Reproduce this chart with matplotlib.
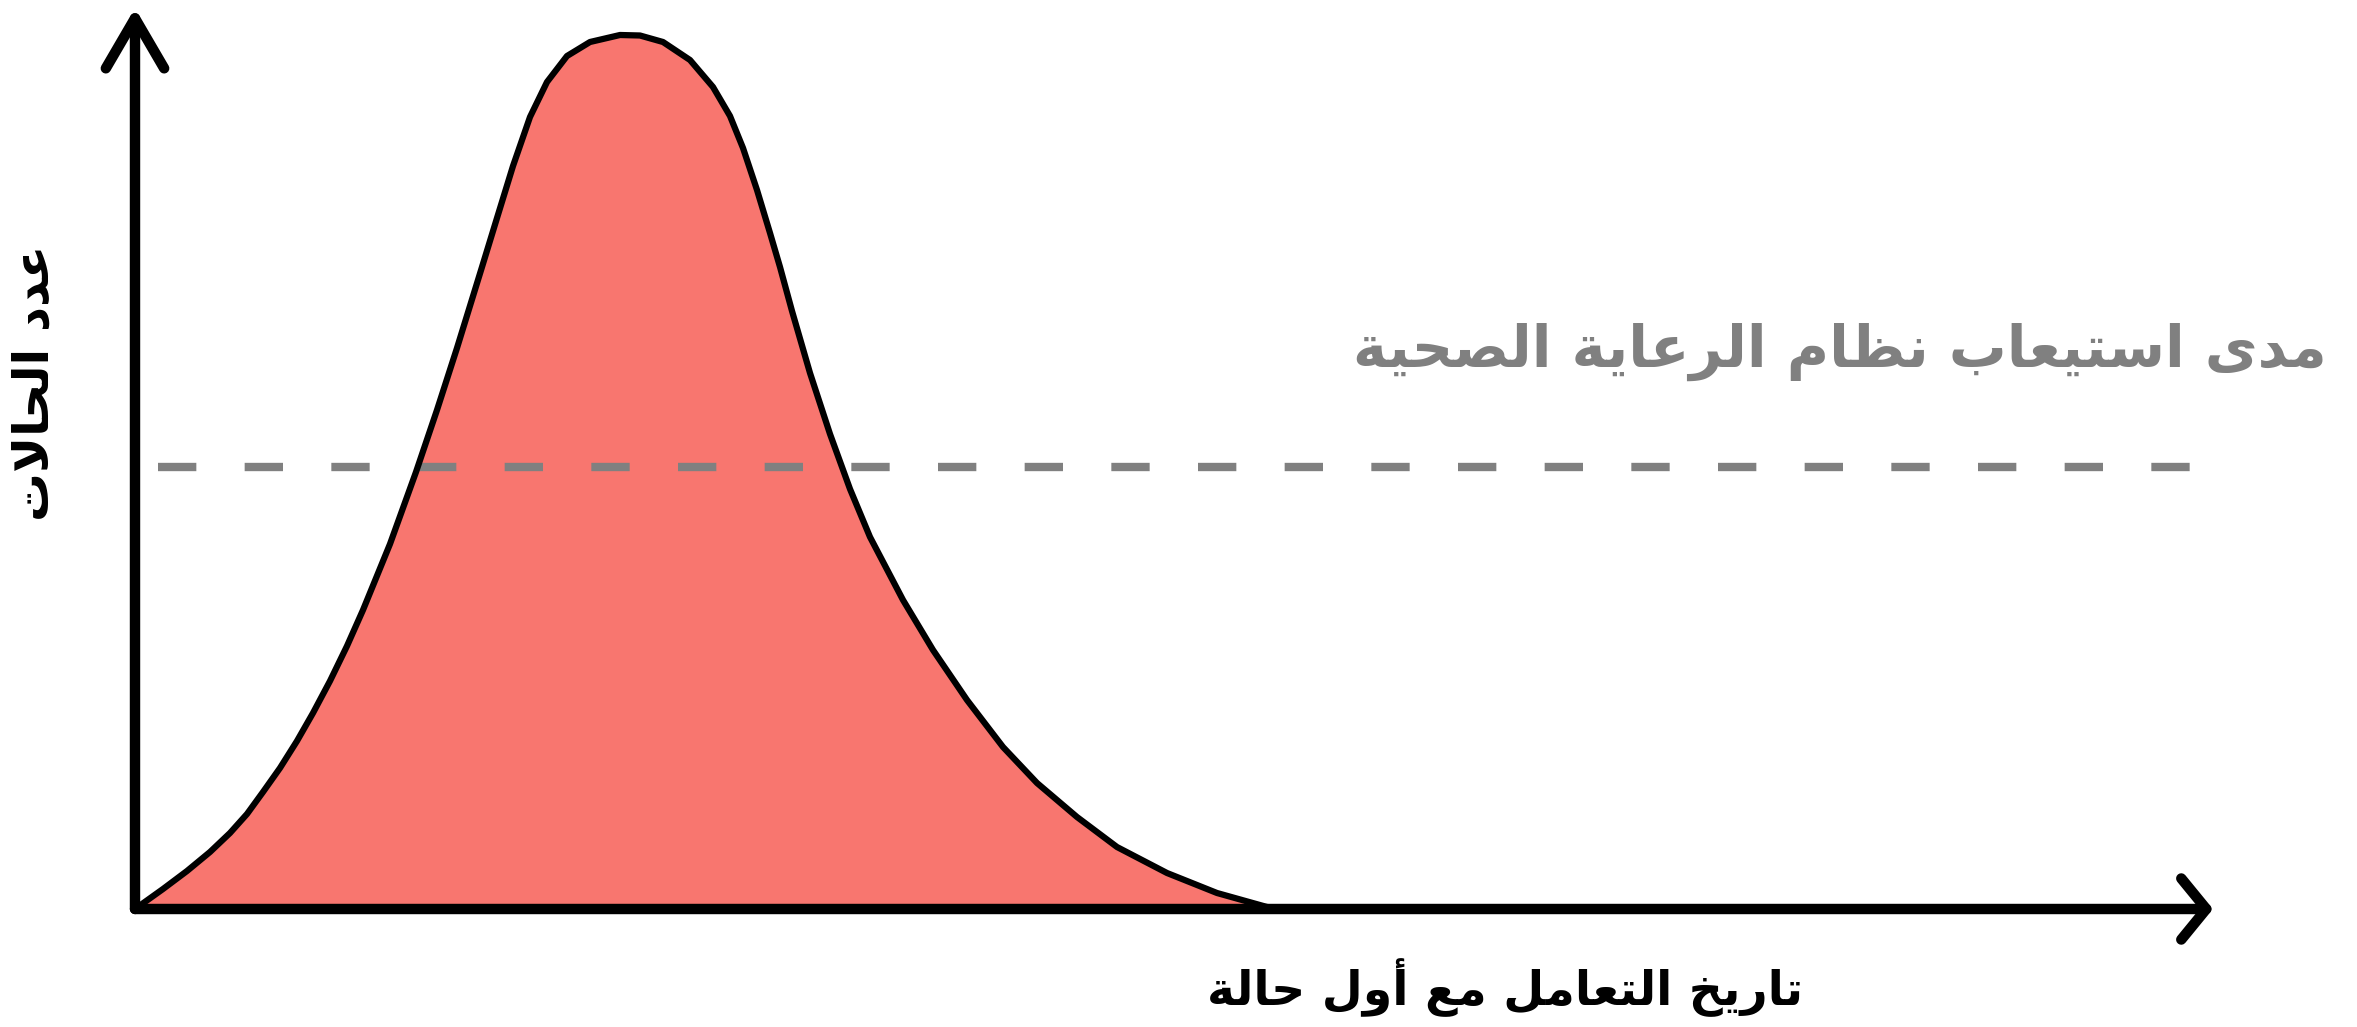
import matplotlib
matplotlib.use("Agg")
import matplotlib.pyplot as plt

# --- data (x: days, y: cases, arbitrary units) ---
days = [0.0, 2.8, 5.2, 7.5, 9.5, 11.2, 12.8, 14.5, 16.2, 17.8, 19.5, 21.2,
        22.8, 25.5, 28.1, 30.2, 32.2, 34.7, 36.2, 37.8, 39.5, 41.2, 43.2,
        45.5, 48.5, 50.5, 52.8, 55.5, 57.8, 59.5, 60.8, 62.2, 63.5, 64.5,
        65.7, 67.5, 69.5, 71.5, 73.5, 76.8, 79.8, 83.2, 86.8, 90.2, 94.2,
        98.2, 103.2, 108.2, 113.2, 115.5]
cases = [0.0, 2.0, 3.8, 5.7, 7.6, 9.5, 11.7, 14.1, 16.8, 19.6, 22.8, 26.3,
         29.9, 36.5, 43.7, 49.9, 56.1, 64.2, 69.1, 74.3, 79.2, 82.7, 85.3,
         86.7, 87.4, 87.35, 86.7, 84.9, 82.2, 79.3, 76.1, 71.9, 67.6, 64.2,
         59.8, 53.6, 47.5, 42.0, 37.2, 30.9, 25.9, 20.9, 16.2, 12.6, 9.2,
         6.2, 3.6, 1.6, 0.2, 0.0]
capacity = 44.2
capacity_span = [2.3, 206.3]

capacity_label = "مدى استيعاب نظام الرعاية الصحية"
x_label = "تاريخ التعامل مع أول حالة"
y_label = "عدد الحالات"

# --- tiny arabic shaper (matplotlib does not join arabic letters) ---
FORMS = {
    'ا': (0xFE8D, 0xFE8E, None, None),
    'أ': (0xFE83, 0xFE84, None, None),
    'ب': (0xFE8F, 0xFE90, 0xFE91, 0xFE92),
    'ة': (0xFE93, 0xFE94, None, None),
    'ت': (0xFE95, 0xFE96, 0xFE97, 0xFE98),
    'ح': (0xFEA1, 0xFEA2, 0xFEA3, 0xFEA4),
    'خ': (0xFEA5, 0xFEA6, 0xFEA7, 0xFEA8),
    'د': (0xFEA9, 0xFEAA, None, None),
    'ر': (0xFEAD, 0xFEAE, None, None),
    'س': (0xFEB1, 0xFEB2, 0xFEB3, 0xFEB4),
    'ص': (0xFEB9, 0xFEBA, 0xFEBB, 0xFEBC),
    'ظ': (0xFEC5, 0xFEC6, 0xFEC7, 0xFEC8),
    'ع': (0xFEC9, 0xFECA, 0xFECB, 0xFECC),
    'ل': (0xFEDD, 0xFEDE, 0xFEDF, 0xFEE0),
    'م': (0xFEE1, 0xFEE2, 0xFEE3, 0xFEE4),
    'ن': (0xFEE5, 0xFEE6, 0xFEE7, 0xFEE8),
    'و': (0xFEED, 0xFEEE, None, None),
    'ى': (0xFEEF, 0xFEF0, None, None),
    'ي': (0xFEF1, 0xFEF2, 0xFEF3, 0xFEF4),
    'لا': (0xFEFB, 0xFEFC, None, None),
    'لأ': (0xFEF7, 0xFEF8, None, None),
}


def shape(text):
    units = []
    i = 0
    while i < len(text):
        if text[i] == 'ل' and i + 1 < len(text) and text[i + 1] in 'اأ':
            units.append(text[i:i + 2])
            i += 2
        else:
            units.append(text[i])
            i += 1

    def joins_next(u):
        return u in FORMS and FORMS[u][2] is not None

    out = []
    for k, u in enumerate(units):
        if u not in FORMS:
            out.append(u)
            continue
        prev = k > 0 and joins_next(units[k - 1])
        nxt = joins_next(u) and k + 1 < len(units) and units[k + 1] in FORMS
        idx = {(False, False): 0, (True, False): 1,
               (False, True): 2, (True, True): 3}[(prev, nxt)]
        out.append(chr(FORMS[u][idx]))
    return ''.join(out)[::-1]


W, H = 2357, 1027
fig = plt.figure(figsize=(W / 100, H / 100), dpi=100)
fig.patch.set_facecolor('white')

# axes: origin at (135, 909) px, x arrow tip at 2213 px, y arrow tip at 8 px
ax = fig.add_axes([135 / W, (H - 909) / H, (2213 - 135) / W, (909 - 8) / H])
ax.set_xlim(0, 207.8)
ax.set_ylim(0, 90.1)
ax.axis('off')

ax.fill_between(days, cases, 0, color='#F8766F', lw=0, zorder=1)
ax.plot(capacity_span, [capacity, capacity], color='#808080', lw=6,
        dashes=(4.6, 5.8), zorder=2, solid_capstyle='butt')
ax.plot(days, cases, color='black', lw=4.5, zorder=3,
        solid_joinstyle='round', solid_capstyle='round')

# axis arrows
ax.annotate('', xy=(1, 0), xytext=(0, 0), xycoords='axes fraction',
            textcoords='axes fraction', annotation_clip=False,
            arrowprops=dict(arrowstyle='->,head_length=18,head_width=22',
                            mutation_scale=1, lw=7.5, color='black',
                            shrinkA=0, shrinkB=0), zorder=4)
ax.annotate('', xy=(0, 1), xytext=(0, 0), xycoords='axes fraction',
            textcoords='axes fraction', annotation_clip=False,
            arrowprops=dict(arrowstyle='->,head_length=36,head_width=21',
                            mutation_scale=1, lw=7.5, color='black',
                            shrinkA=0, shrinkB=0), zorder=4)

# texts
fig.text(2327 / W, 1 - 352 / H, shape(capacity_label), ha='right', va='center',
         fontsize=41.5, fontweight='bold', color='#808080', family='DejaVu Sans')
fig.text(1505 / W, 1 - 988 / H, shape(x_label), ha='center', va='center',
         fontsize=34, fontweight='bold', color='black', family='DejaVu Sans')
fig.text(34 / W, 1 - 383 / H, shape(y_label), ha='center', va='center',
         rotation=90, fontsize=35, fontweight='bold', color='black',
         family='DejaVu Sans')

fig.savefig('out.png', dpi=100, facecolor='white')
